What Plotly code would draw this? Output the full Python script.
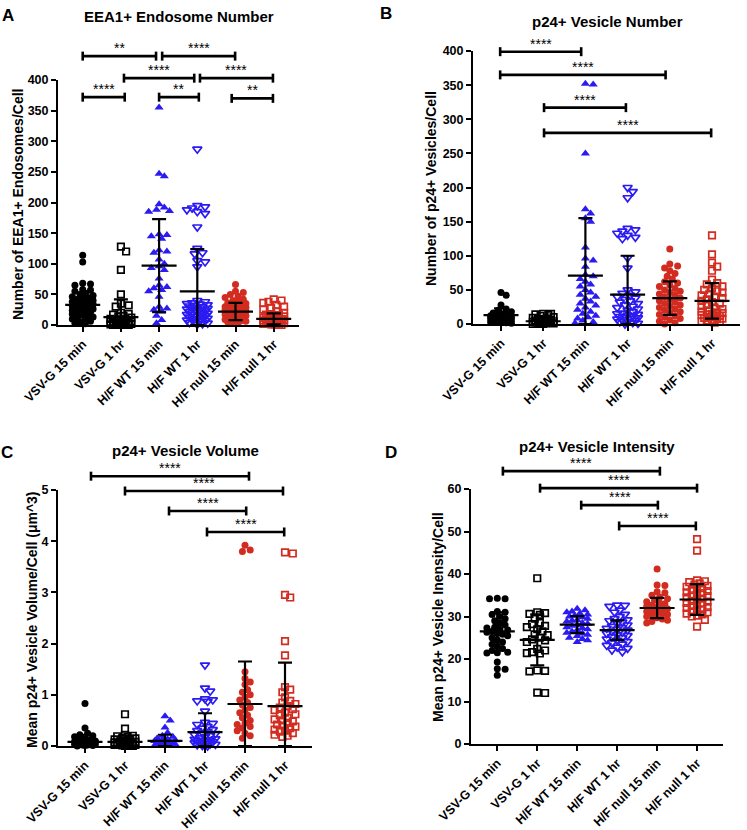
import plotly.graph_objects as go

W, H = 747, 830
FONT = "Liberation Sans, Arial, sans-serif"

categories = ["VSV-G 15 min", "VSV-G 1 hr", "H/F WT 15 min", "H/F WT 1 hr", "H/F null 15 min", "H/F null 1 hr"]
colors = ["#000000", "#000000", "#2b1bf2", "#2b1bf2", "#d22b1f", "#d22b1f"]
symbols = ["circle", "square-open", "triangle-up", "triangle-down-open", "circle", "square-open"]
sizes = [7, 6.5, 8, 8, 7, 6.5]

# ---------------- Panel A : EEA1+ Endosome Number ----------------
a_vsv15 = [114, 103, 68, 67, 65, 58, 57, 55, 52, 50, 48, 46, 45, 43, 42, 40, 38, 37, 36, 35, 34, 33, 32, 31, 30,
           29, 28, 27, 26, 25, 24, 22, 21, 20, 18, 16, 15, 13, 12, 10, 8, 6, 5, 3, 2]
a_vsv1h = [128, 120, 90, 50, 35, 32, 30, 20, 18, 17, 15, 14, 12, 10, 9, 8, 7, 6, 5, 5, 4, 4, 3, 3, 2, 2, 2,
           1, 1, 1, 0, 0, 0, 0]
a_wt15 = [355, 247, 243, 197, 192, 188, 186, 185, 148, 147, 145, 141, 122, 120, 118, 107, 100, 96, 93, 90, 76,
          65, 62, 60, 57, 55, 46, 30, 27, 25, 22, 15, 8, 3]
a_wt1h = [287, 195, 193, 191, 188, 185, 182, 160, 125, 118, 116, 105, 103, 95, 40, 38, 36, 35, 34, 33, 32, 31,
          30, 29, 28, 27, 26, 25, 24, 23, 22, 21, 20, 19, 18, 17, 16, 15, 14, 13, 12, 11, 10, 9, 8, 7, 6, 5, 4,
          3, 2, 1]
a_null15 = [66, 55, 53, 50, 47, 45, 42, 40, 38, 36, 35, 33, 32, 30, 29, 28, 27, 26, 25, 24, 23, 22, 21, 20, 19,
            18, 17, 16, 15, 14, 13, 12, 11, 10, 9, 8, 7, 6, 5, 4, 3]
a_null1h = [42, 40, 38, 36, 33, 30, 28, 25, 22, 20, 18, 17, 16, 15, 14, 13, 12, 11, 10, 10, 9, 9, 8, 8, 7, 7, 6,
            6, 5, 5, 4, 4, 3, 3, 2, 2, 1, 1, 0, 0]
a_means = [33, 13, 97, 55, 22, 10]
a_sds = [20, 29, 76, 69, 14, 9]
a_ticks = [0, 50, 100, 150, 200, 250, 300, 350, 400]
a_brackets = [(1.0, 2.92, 439, "**"), (3.08, 4.99, 439, "****"),
              (2.08, 3.92, 403, "****"), (4.07, 5.98, 403, "****"),
              (1.0, 2.1, 372, "****"), (3.0, 4.04, 372, "**"), (4.9, 5.98, 370, "**")]

# ---------------- Panel B : p24+ Vesicle Number ----------------
b_vsv15 = [46, 42, 28, 22, 20, 18, 16, 15, 14, 13, 12, 12, 11, 11, 10, 10, 9, 9, 8, 8, 7, 7, 6, 6, 5, 5, 4, 4,
           3, 3, 2, 2, 1]
b_vsv1h = [15, 15, 14, 13, 12, 10, 9, 8, 7, 6, 6, 5, 5, 4, 4, 4, 3, 3, 3, 2, 2, 2, 1, 1, 1, 0, 0, 0]
b_wt15 = [352, 351, 250, 168, 162, 155, 150, 112, 96, 93, 84, 72, 70, 66, 62, 58, 55, 50, 46, 43, 40, 37, 33,
          30, 27, 24, 21, 18, 15, 12, 10, 8, 5, 3, 1]
b_wt1h = [200, 194, 185, 140, 138, 136, 133, 130, 127, 125, 97, 82, 50, 47, 45, 42, 40, 38, 36, 34, 32, 30, 28,
          26, 24, 22, 20, 18, 16, 15, 14, 13, 12, 11, 10, 9, 8, 7, 6, 5, 4, 3, 2, 1, 0]
b_null15 = [110, 88, 85, 82, 78, 74, 70, 66, 62, 60, 57, 55, 52, 50, 48, 46, 44, 42, 40, 38, 36, 34, 32, 30, 28,
            26, 24, 22, 20, 18, 16, 14, 12, 10, 8, 6, 4, 2, 0]
b_null1h = [130, 102, 90, 84, 78, 65, 60, 58, 55, 52, 50, 48, 46, 44, 42, 40, 38, 36, 34, 32, 30, 28, 26, 24, 22,
            20, 18, 17, 16, 15, 14, 13, 12, 11, 10, 9, 8, 7, 6, 5, 4, 3, 2]
b_means = [13, 4, 71, 43, 38, 34]
b_sds = [10, 4, 84, 57, 24.5, 26]
b_ticks = [0, 50, 100, 150, 200, 250, 300, 350, 400]
b_brackets = [(0.98, 2.9, 399, "****"), (0.98, 4.9, 365, "****"),
              (2.02, 3.96, 317, "****"), (2.02, 5.98, 280, "****")]

# ---------------- Panel C : p24+ Vesicle Volume ----------------
c_vsv15 = [0.83, 0.35, 0.25, 0.22, 0.2, 0.18, 0.15, 0.13, 0.12, 0.1, 0.09, 0.08, 0.07, 0.06, 0.05, 0.05, 0.04,
           0.04, 0.03, 0.03, 0.02, 0.02, 0.01, 0.01, 0.0]
c_vsv1h = [0.62, 0.34, 0.22, 0.2, 0.19, 0.18, 0.16, 0.15, 0.13, 0.12, 0.1, 0.09, 0.08, 0.07, 0.06, 0.05, 0.05,
           0.04, 0.04, 0.03, 0.03, 0.02, 0.02, 0.01, 0.01, 0.0, 0.0]
c_wt15 = [0.58, 0.5, 0.36, 0.26, 0.2, 0.18, 0.15, 0.13, 0.12, 0.11, 0.1, 0.09, 0.08, 0.07, 0.06, 0.05, 0.05,
          0.04, 0.03, 0.02, 0.01]
c_wt1h = [1.58, 1.13, 1.07, 0.92, 0.9, 0.88, 0.87, 0.68, 0.46, 0.44, 0.42, 0.38, 0.35, 0.32, 0.3, 0.28, 0.26,
          0.24, 0.22, 0.2, 0.18, 0.16, 0.14, 0.13, 0.12, 0.11, 0.1, 0.09, 0.08, 0.07, 0.06, 0.05, 0.04, 0.03,
          0.02, 0.01, 0.0]
c_null15 = [3.92, 3.83, 3.8, 1.45, 1.32, 1.25, 1.2, 1.1, 1.05, 1.0, 0.95, 0.9, 0.85, 0.8, 0.75, 0.7, 0.65, 0.6,
            0.55, 0.5, 0.45, 0.42, 0.38, 0.35, 0.3, 0.25, 0.2, 0.15]
c_null1h = [3.78, 3.76, 2.95, 2.9, 2.05, 1.77, 1.15, 1.1, 1.05, 0.95, 0.88, 0.85, 0.82, 0.78, 0.75, 0.72, 0.7,
            0.65, 0.62, 0.6, 0.55, 0.52, 0.5, 0.48, 0.45, 0.42, 0.4, 0.38, 0.35, 0.32, 0.3, 0.28, 0.25, 0.22,
            0.2, 0.18]
c_means = [0.08, 0.08, 0.1, 0.27, 0.82, 0.78]
c_sds = [0.14, 0.12, 0.12, 0.37, 0.83, 0.85]
c_ticks = [0, 1, 2, 3, 4, 5]
c_brackets = [(1.15, 5.1, 5.27, "****"), (2.0, 5.95, 4.98, "****"),
              (3.1, 5.03, 4.59, "****"), (4.05, 5.98, 4.18, "****")]

# ---------------- Panel D : p24+ Vesicle Intensity ----------------
d_vsv15 = [34.3, 34.2, 34.2, 31.2, 31.0, 30.5, 30, 29.5, 29, 28.5, 28, 27.5, 27.3, 27, 26.8, 26.5, 26.3, 26,
           25.8, 25.5, 25, 24.5, 24, 23.5, 23, 22.5, 22, 21.6, 21.5, 21.4, 19.3, 17.7, 17.6, 16.2]
d_vsv1h = [39, 31, 30.8, 30.6, 30.4, 29.5, 28.5, 28.2, 27.8, 27.5, 27, 26.5, 25.8, 25.6, 25, 24.6, 24.4, 24,
           22.4, 22, 21.6, 21.4, 21.3, 17.3, 17.2, 17.1, 12.1, 12.0]
d_wt15 = [31.8, 31.5, 31.2, 31, 30.7, 30.5, 30.2, 30, 29.8, 29.5, 29.2, 29, 28.8, 28.5, 28.3, 28, 27.8, 27.5,
          27.3, 27, 26.8, 26.5, 26.2, 26, 25.7, 25.4, 25, 24.7, 24.4, 24]
d_wt1h = [32.7, 32.6, 32.4, 31.5, 31, 30.5, 30, 29.5, 29.2, 29, 28.7, 28.4, 28, 27.7, 27.4, 27.2, 27, 26.8,
          26.5, 26.3, 26, 25.7, 25.5, 25.2, 25, 24.7, 24.4, 24.1, 23.8, 23.5, 23.2, 22.8, 22.5, 22.1, 21.7]
d_null15 = [41.2, 37.4, 37.3, 35.8, 35.6, 35, 34.6, 34.2, 33.8, 33.5, 33.2, 33, 32.7, 32.4, 32.2, 32, 31.8,
            31.5, 31.2, 31, 30.8, 30.5, 30.2, 30, 29.7, 29.4, 29.1, 28.8, 28.5]
d_null1h = [48.2, 45.5, 38.5, 38.3, 38.1, 37.8, 37.5, 37.2, 37, 36.7, 36.5, 36.2, 36, 35.7, 35.5, 35.2, 35,
            34.8, 34.5, 34.2, 34, 33.7, 33.5, 33.2, 33, 32.8, 32.5, 32.2, 32, 31.7, 31.5, 31.2, 31, 30.7,
            30.5, 30.2, 30, 29.2, 27.6]
d_means = [26.5, 24.5, 28.1, 26.8, 32.0, 34.0]
d_sds = [4.5, 6.0, 2.0, 2.3, 2.4, 3.6]
d_ticks = [0, 10, 20, 30, 40, 50, 60]
d_brackets = [(1.14, 5.07, 64.2, "****"), (2.07, 6.0, 60.2, "****"),
              (3.1, 5.02, 56.2, "****"), (4.05, 5.97, 51.3, "****")]

# ---------------- layout geometry (pixels) ----------------
panels = [
    dict(groups=[a_vsv15, a_vsv1h, a_wt15, a_wt1h, a_null15, a_null1h], means=a_means, sds=a_sds,
         ticks=a_ticks, brackets=a_brackets, title="EEA1+ Endosome Number", letter="A",
         ytitle="Number of EEA1+ Endosomes/Cell",
         xl=58, xr=299, c1=82.7, sp=38.2, y0=325, ytop=80, btop=36,
         title_xy=(179, 16), letter_xy=(8, 15), ytitle_xy=(18, 205)),
    dict(groups=[b_vsv15, b_vsv1h, b_wt15, b_wt1h, b_null15, b_null1h], means=b_means, sds=b_sds,
         ticks=b_ticks, brackets=b_brackets, title="p24+ Vesicle Number", letter="B",
         ytitle="Number of p24+ Vesicles/Cell",
         xl=473, xr=740, c1=501, sp=42.2, y0=324, ytop=51, btop=33,
         title_xy=(607, 21), letter_xy=(386, 14), ytitle_xy=(431, 188)),
    dict(groups=[c_vsv15, c_vsv1h, c_wt15, c_wt1h, c_null15, c_null1h], means=c_means, sds=c_sds,
         ticks=c_ticks, brackets=c_brackets, title="p24+ Vesicle Volume", letter="C",
         ytitle="Mean p24+ Vesicle Volume/Cell (μm^3)",
         xl=58, xr=312, c1=85, sp=40, y0=746, ytop=490, btop=458,
         title_xy=(185, 450), letter_xy=(7, 452), ytitle_xy=(32, 620)),
    dict(groups=[d_vsv15, d_vsv1h, d_wt15, d_wt1h, d_null15, d_null1h], means=d_means, sds=d_sds,
         ticks=d_ticks, brackets=d_brackets, title="p24+ Vesicle Intensity", letter="D",
         ytitle="Mean p24+ Vesicle Inensity/Cell",
         xl=471, xr=723, c1=497.3, sp=39.95, y0=744, ytop=489, btop=458,
         title_xy=(597, 446), letter_xy=(391, 452), ytitle_xy=(438, 617)),
]


def swarm(vals, ypx, d=5.6, step=2.6, maxoff=12.0):
    """Deterministic beeswarm offsets (pixels) for one column of points."""
    order = sorted(range(len(vals)), key=lambda i: -vals[i])
    placed = []
    offs = [0.0] * len(vals)
    cands = [0.0]
    k = 1
    while k * step <= maxoff:
        cands += [k * step, -k * step]
        k += 1
    for i in order:
        y = vals[i] * ypx
        best, bestd = 0.0, -1
        chosen = None
        for c in cands:
            md = min([((c - px) ** 2 + (y - py) ** 2) ** 0.5 for px, py in placed] or [1e9])
            if md >= d:
                chosen = c
                break
            if md > bestd:
                bestd, best = md, c
        if chosen is None:
            chosen = best
        offs[i] = chosen
        placed.append((chosen, y))
    return offs


fig = go.Figure()
layout = dict(template="none", width=W, height=H, margin=dict(l=0, r=0, t=0, b=0, autoexpand=False),
              paper_bgcolor="white", plot_bgcolor="rgba(0,0,0,0)", showlegend=False,
              font=dict(family=FONT, color="black"))
annotations = []

for n, p in enumerate(panels, start=1):
    xa = "x" if n == 1 else f"x{n}"
    ya = "y" if n == 1 else f"y{n}"
    yb = f"y{n + 4}"
    ymax = p["ticks"][-1]
    xrange_ = [1 - (p["c1"] - p["xl"]) / p["sp"], 1 + (p["xr"] - p["c1"]) / p["sp"]]
    ypx = (p["y0"] - p["ytop"]) / ymax
    dom_x = [p["xl"] / W, p["xr"] / W]
    dom_y = [1 - p["y0"] / H, 1 - p["ytop"] / H]
    dom_yb = [1 - p["y0"] / H, 1 - p["btop"] / H]
    brange = (p["y0"] - p["btop"]) / ypx

    layout["xaxis" if n == 1 else f"xaxis{n}"] = dict(
        domain=dom_x, range=xrange_, anchor=ya, tickvals=[1, 2, 3, 4, 5, 6], ticktext=categories,
        tickangle=-45, showline=True, linecolor="black", linewidth=2, ticks="outside", ticklen=5,
        tickwidth=2, tickcolor="black", showgrid=False, zeroline=False, automargin=False,
        tickfont=dict(size=12.5, family=FONT, weight="bold", color="black"))
    layout["yaxis" if n == 1 else f"yaxis{n}"] = dict(
        domain=dom_y, range=[0, ymax], anchor=xa, tickvals=p["ticks"], showline=True, linecolor="black",
        linewidth=2, ticks="outside", ticklen=5, tickwidth=2, tickcolor="black", showgrid=False,
        zeroline=False, automargin=False, tickfont=dict(size=12.5, family=FONT, weight="bold", color="black"))
    layout[f"yaxis{n + 4}"] = dict(domain=dom_yb, range=[0, brange], anchor=xa, visible=False,
                                   showgrid=False, zeroline=False, automargin=False)

    for g, vals in enumerate(p["groups"]):
        offs = swarm(vals, ypx)
        xs = [g + 1 + o / p["sp"] for o in offs]
        fig.add_trace(go.Scatter(
            x=xs, y=vals, mode="markers", xaxis=xa, yaxis=ya, cliponaxis=False, hoverinfo="skip",
            marker=dict(symbol=symbols[g], size=sizes[g], color=colors[g],
                        line=dict(width=1.7 if "open" in symbols[g] else 0, color=colors[g]))))

    fig.add_trace(go.Scatter(
        x=[1, 2, 3, 4, 5, 6], y=p["means"], mode="markers", xaxis=xa, yaxis=ya, cliponaxis=False,
        hoverinfo="skip",
        marker=dict(symbol="line-ew", size=25, color="black", line=dict(width=2.2, color="black")),
        error_y=dict(type="data", symmetric=False, array=p["sds"],
                     arrayminus=[min(s, m) for s, m in zip(p["sds"], p["means"])],
                     width=7, thickness=2.2, color="black")))

    h = 4.5 / ypx
    for x0, x1, yv, lab in p["brackets"]:
        fig.add_trace(go.Scatter(
            x=[x0, x0, None, x0, x1, None, x1, x1],
            y=[yv - h, yv + h, None, yv, yv, None, yv - h, yv + h],
            mode="lines", xaxis=xa, yaxis=yb, hoverinfo="skip",
            line=dict(color="black", width=2.6)))
        annotations.append(dict(x=(x0 + x1) / 2, y=yv, xref=xa, yref=yb, text=lab, showarrow=False,
                                xanchor="center", yanchor="bottom", yshift=-2,
                                font=dict(size=14, family=FONT, color="black")))

    tx, ty = p["title_xy"]
    annotations.append(dict(x=tx / W, y=1 - ty / H, xref="paper", yref="paper", text=f"<b>{p['title']}</b>",
                            showarrow=False, xanchor="center", yanchor="middle",
                            font=dict(size=15, family=FONT, color="black")))
    lx, ly = p["letter_xy"]
    annotations.append(dict(x=lx / W, y=1 - ly / H, xref="paper", yref="paper", text=f"<b>{p['letter']}</b>",
                            showarrow=False, xanchor="center", yanchor="middle",
                            font=dict(size=17, family=FONT, color="black")))
    yx, yy = p["ytitle_xy"]
    annotations.append(dict(x=yx / W, y=1 - yy / H, xref="paper", yref="paper", text=f"<b>{p['ytitle']}</b>",
                            showarrow=False, xanchor="center", yanchor="middle", textangle=-90,
                            font=dict(size=14, family=FONT, color="black")))

layout["annotations"] = annotations
fig.update_layout(**layout)
fig.write_html("out.html", config={"displayModeBar": False},
               post_script="document.body.style.margin='0';document.body.style.overflow='hidden';")
